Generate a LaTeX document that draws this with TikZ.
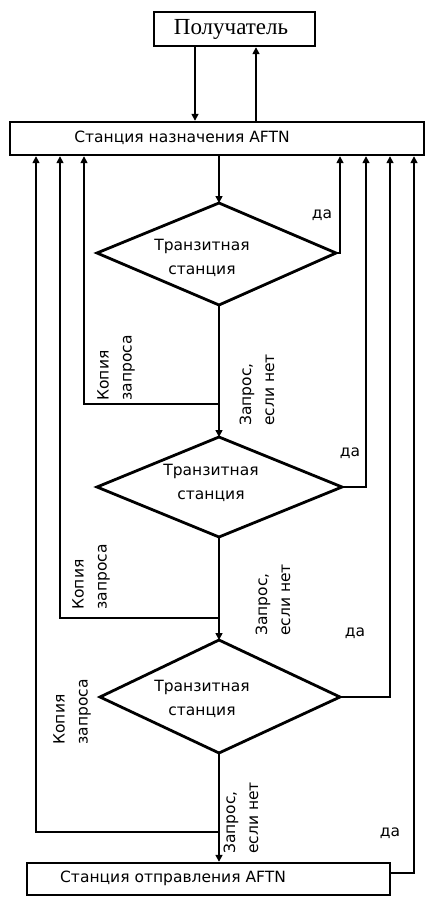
\documentclass[tikz,border=0pt]{standalone}
\usepackage{fontspec}
\setmainfont{Liberation Serif}
\newfontfamily\dvs{DejaVu Sans}
\usetikzlibrary{arrows.meta}
\begin{document}
\begin{tikzpicture}[x=1pt,y=-1pt,
 box/.style={draw, line width=2.4pt, inner sep=0pt},
 conn/.style={line width=1.6pt, -{Triangle[length=7pt,width=7pt]}},
 dia/.style={draw, line width=2.8pt, line join=miter},
 lbl/.style={font=\dvs\fontsize{15.5}{23}\selectfont, inner sep=0pt, align=left},
 ctr/.style={font=\dvs\fontsize{15.5}{24}\selectfont, inner sep=0pt, align=center},
 rlbl/.style={lbl, rotate=90}]
\useasboundingbox (0,0) rectangle (425,897);
% boxes
\node[box, minimum width=161pt, minimum height=34pt] (rec) at (234.5,29) {};
\node[font=\fontsize{23}{26}\selectfont, inner sep=0pt] (rect) at (231,29) {Получатель};
\node[box, minimum width=414pt, minimum height=33pt] (dst) at (217,138.5) {};
\node[lbl] (dstt) at (182,138) {Станция назначения AFTN};
\node[box, minimum width=363pt, minimum height=32pt] (src) at (208.5,879) {};
\node[lbl] (srct) at (173,878) {Станция отправления AFTN};
% diamonds
\coordinate (d1t) at (219,203); \coordinate (d1l) at (97,253);
\coordinate (d1r) at (336,253); \coordinate (d1b) at (219,305);
\coordinate (d2t) at (219,437); \coordinate (d2l) at (97,487);
\coordinate (d2r) at (342,487); \coordinate (d2b) at (219,537);
\coordinate (d3t) at (219,640); \coordinate (d3l) at (100,697);
\coordinate (d3r) at (340,697); \coordinate (d3b) at (219,753);
\draw[dia] (d1t) -- (d1r) -- (d1b) -- (d1l) -- cycle;
\draw[dia] (d2t) -- (d2r) -- (d2b) -- (d2l) -- cycle;
\draw[dia] (d3t) -- (d3r) -- (d3b) -- (d3l) -- cycle;
\node[ctr] (d1txt) at (202,258) {Транзитная\\станция};
\node[ctr] (d2txt) at (211,483) {Транзитная\\станция};
\node[ctr] (d3txt) at (202,699) {Транзитная\\станция};
% junction coordinates
\coordinate (j1) at (219,404); \coordinate (j2) at (219,618); \coordinate (j3) at (219,832);
\coordinate (c1) at (84,404); \coordinate (c2) at (60,618); \coordinate (c3) at (36,832);
\coordinate (y1) at (340,253); \coordinate (y2) at (366,487); \coordinate (y3) at (390,697);
\coordinate (y4) at (414,873); \coordinate (srcr) at (390,873);
% connectors receiver
\draw[conn] (rec.south -| 195,0) -- (dst.north -| 195,0);
\draw[conn] (dst.north -| 256,0) -- (rec.south -| 256,0);
% main spine
\draw[conn] (dst.south -| 219,0) -- (d1t);
\draw[conn] (d1b) -- (d2t);
\draw[conn] (d2b) -- (d3t);
\draw[conn] (d3b) -- (src.north -| 219,0);
% copies
\draw[conn] (j1) -- (c1) -- (c1 |- dst.south);
\draw[conn] (j2) -- (c2) -- (c2 |- dst.south);
\draw[conn] (j3) -- (c3) -- (c3 |- dst.south);
% yes branches
\draw[conn] (d1r) -- (y1) -- (y1 |- dst.south);
\draw[conn] (d2r) -- (y2) -- (y2 |- dst.south);
\draw[conn] (d3r) -- (y3) -- (y3 |- dst.south);
\draw[conn] (srcr) -- (y4) -- (y4 |- dst.south);
% labels
\node[lbl] (yes1) at (322,215) {да};
\node[lbl] (yes2) at (350,453) {да};
\node[lbl] (yes3) at (355,633) {да};
\node[lbl] (yes4) at (390,833) {да};
\node[rlbl] (cp1) at (116,368) {Копия\\запроса};
\node[rlbl] (cp2) at (91,577) {Копия\\запроса};
\node[rlbl] (cp3) at (72,712) {Копия\\запроса};
\node[rlbl] (rq1) at (257,390) {Запрос,\\если нет};
\node[rlbl] (rq2) at (273,600) {Запрос,\\если нет};
\node[rlbl] (rq3) at (241,818) {Запрос,\\если нет};
\end{tikzpicture}
\end{document}
